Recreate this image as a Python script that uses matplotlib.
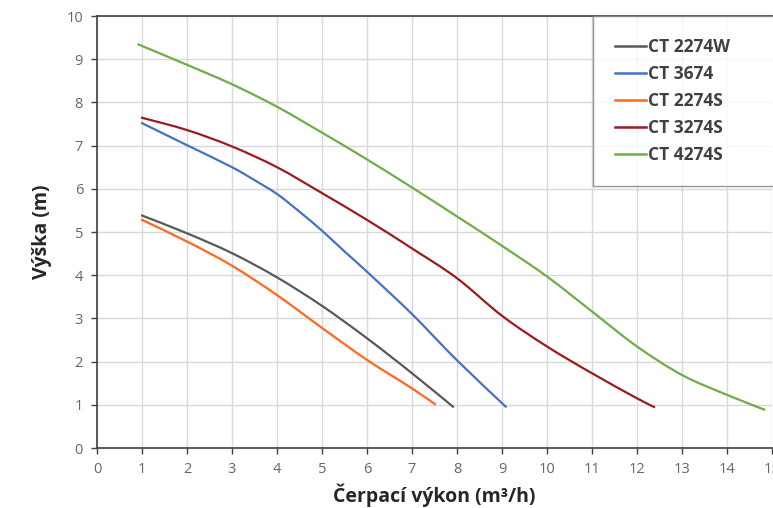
import matplotlib.pyplot as plt
from matplotlib.path import Path
from matplotlib.patches import PathPatch
from matplotlib.lines import Line2D

# pump curves: flow (m3/h) vs head (m)
x_2274w = [0.98, 2, 3, 4, 5, 6, 7, 7.93]
y_2274w = [5.39, 4.97, 4.51, 3.95, 3.29, 2.54, 1.73, 0.94]

x_3674 = [0.98, 2, 3, 3.5, 4, 4.5, 5, 5.5, 6, 7, 8, 9.1]
y_3674 = [7.53, 7.01, 6.50, 6.20, 5.88, 5.47, 5.03, 4.55, 4.08, 3.10, 2.03, 0.94]

x_2274s = [0.98, 2, 3, 4, 5, 6, 7, 7.53]
y_2274s = [5.29, 4.78, 4.22, 3.54, 2.78, 2.04, 1.38, 1.0]

x_3274s = [0.98, 2, 3, 4, 5, 6, 7, 8, 9, 10, 11, 12, 12.4]
y_3274s = [7.65, 7.36, 6.98, 6.50, 5.90, 5.28, 4.62, 3.93, 3.06, 2.35, 1.73, 1.15, 0.94]

x_4274s = [0.9, 2, 3, 4, 5, 6, 7, 8, 9, 10, 11, 12, 13, 14, 14.85]
y_4274s = [9.35, 8.87, 8.42, 7.90, 7.30, 6.68, 6.03, 5.36, 4.68, 3.97, 3.16, 2.35, 1.69, 1.23, 0.88]

series = [
    ("CT 2274W", x_2274w, y_2274w, "#595959"),
    ("CT 3674", x_3674, y_3674, "#4472C4"),
    ("CT 2274S", x_2274s, y_2274s, "#FF671F"),
    ("CT 3274S", x_3274s, y_3274s, "#9B1B1E"),
    ("CT 4274S", x_4274s, y_4274s, "#70AD47"),
]


def smooth_path(xs, ys):
    # excel-like smoothed line: catmull-rom drawn as cubic beziers
    pts = list(zip(xs, ys))
    n = len(pts)
    verts = [pts[0]]
    codes = [Path.MOVETO]
    for i in range(n - 1):
        p0 = pts[max(i - 1, 0)]
        p1 = pts[i]
        p2 = pts[i + 1]
        p3 = pts[min(i + 2, n - 1)]
        c1 = (p1[0] + (p2[0] - p0[0]) / 6, p1[1] + (p2[1] - p0[1]) / 6)
        c2 = (p2[0] - (p3[0] - p1[0]) / 6, p2[1] - (p3[1] - p1[1]) / 6)
        verts += [c1, c2, p2]
        codes += [Path.CURVE4] * 3
    return Path(verts, codes)


plt.rcParams['font.family'] = ['Open Sans', 'DejaVu Sans']

fig = plt.figure(figsize=(7.73, 5.08), dpi=100)
ax = fig.add_axes([97 / 773, 1 - 448 / 508, 675 / 773, 432 / 508])

handles = []
for name, xs, ys, c in series:
    ax.add_patch(PathPatch(smooth_path(xs, ys), facecolor='none', edgecolor=c,
                           lw=1.6, capstyle='butt'))
    handles.append(Line2D([], [], color=c, lw=1.8, label=name))

ax.set_xlim(0, 15)
ax.set_ylim(0, 10)
ax.set_xticks(range(0, 16))
ax.set_yticks(range(0, 11))
ax.grid(True, color='#d9d9d9', lw=1)
ax.set_axisbelow(True)

for s in ['left', 'bottom', 'top']:
    ax.spines[s].set_color('#404040')
    ax.spines[s].set_linewidth(1.2)
ax.spines['right'].set_visible(False)

ax.tick_params(axis='both', colors='#404040', length=4, width=1, labelsize=10.5,
               labelcolor='#666666', pad=6)

ax.set_xlabel("Čerpací výkon (m³/h)", fontsize=14, fontweight='bold',
              color='#262626', labelpad=5)
ax.set_ylabel("Výška (m)", fontsize=14, fontweight='bold',
              color='#262626', labelpad=10)

leg = ax.legend(handles=handles, loc='upper left',
                bbox_to_anchor=(496 / 675, 0, 0.28, 1.0), mode='expand',
                frameon=True, fancybox=False, fontsize=12.5, handlelength=1.8,
                handletextpad=0.1, labelspacing=0.52, borderpad=1.25,
                borderaxespad=0)
leg.get_frame().set_edgecolor('#7f7f7f')
leg.get_frame().set_linewidth(1)
for t in leg.get_texts():
    t.set_fontweight('bold')
    t.set_color('#404040')

fig.savefig("out.png", dpi=100)
